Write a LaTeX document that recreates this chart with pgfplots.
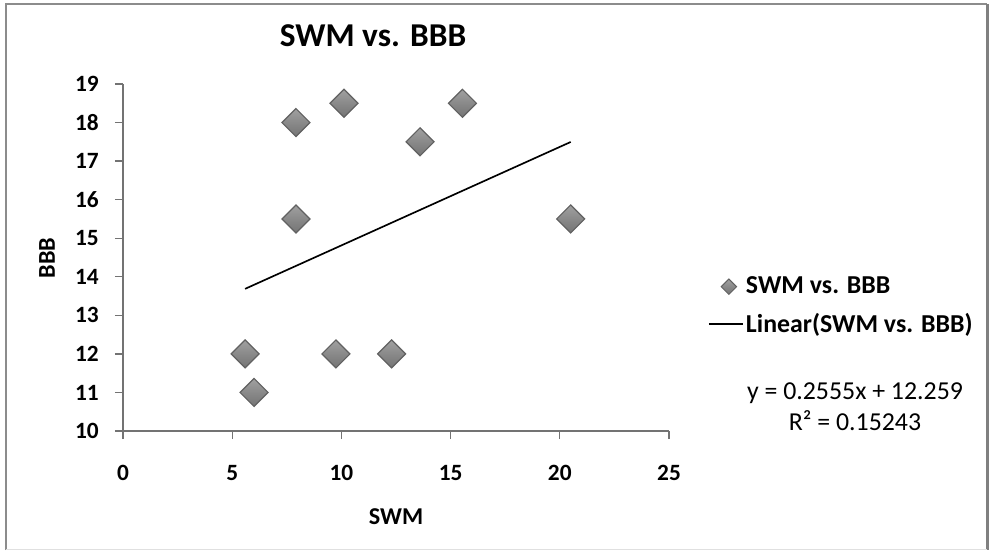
\documentclass[border=0pt]{standalone}
\usepackage{pgfplots}
\pgfplotsset{compat=1.18}
\usepackage{fontspec}
\setmainfont{Carlito}

% grey gradient used for the scatter markers
\pgfdeclareverticalshading{gdshade}{100bp}{%
  color(0bp)=(black!62); color(45bp)=(black!48); color(100bp)=(black!28)}
\pgfdeclareplotmark{gdiamond}{%
  \pgfpathmoveto{\pgfqpoint{0pt}{\pgfplotmarksize}}%
  \pgfpathlineto{\pgfqpoint{\pgfplotmarksize}{0pt}}%
  \pgfpathlineto{\pgfqpoint{0pt}{-\pgfplotmarksize}}%
  \pgfpathlineto{\pgfqpoint{-\pgfplotmarksize}{0pt}}%
  \pgfpathclose
  \pgfshadepath{gdshade}{0}%
  \pgfusepath{stroke}%
}

\begin{document}
\begin{tikzpicture}
\useasboundingbox (0pt,0pt) rectangle (595.2pt,330pt);
% chart frame
\draw[black!45, line width=1.2pt] (3.6pt,0pt) -- (3.6pt,327.6pt) -- (592.2pt,327.6pt);
\draw[black!50, line width=1.8pt] (592.2pt,327.6pt) -- (592.2pt,0pt);
\draw[black!12, line width=0.6pt] (3.6pt,0.6pt) -- (592.2pt,0.6pt);

\begin{axis}[
  at={(73.8pt,71.4pt)}, anchor=south west,
  scale only axis, width=327.6pt, height=208.2pt,
  xmin=0, xmax=25, ymin=10, ymax=19,
  xtick={0,5,10,15,20,25}, ytick={10,11,...,19},
  axis lines*=left,
  axis line style={black!55, line width=0.8pt},
  tick align=outside, major tick length=4.8pt,
  tick style={black!55, line width=0.8pt},
  /pgf/number format/assume math mode=true,
  ticklabel style={font=\fontsize{14}{16}\selectfont\bfseries, inner sep=0pt},
  yticklabel style={anchor=east, xshift=-9.6pt},
  xticklabel style={anchor=north, yshift=-15.6pt},
  title={SWM vs. BBB},
  title style={at={(axis description cs:0.458,1.1095)}, anchor=center,
    font=\fontsize{20}{22}\selectfont\bfseries},
  xlabel={SWM},
  xlabel style={at={(axis description cs:0.5,-0.2478)}, anchor=center,
    font=\fontsize{14.5}{16}\selectfont\bfseries},
  ylabel={BBB},
  ylabel style={at={(axis description cs:-0.1392,0.4986)}, anchor=center, rotate=0,
    font=\fontsize{14.5}{16}\selectfont\bfseries},
  legend style={draw=none, fill=none,
    at={(axis description cs:1.0714,0.452)}, anchor=north west,
    font=\fontsize{15.5}{17}\selectfont\bfseries,
    inner sep=0pt, row sep=7pt,
    nodes={inner sep=1.5pt, anchor=west}},
  legend cell align=left,
  clip=false,
]
% observations
\addplot[only marks, mark=gdiamond, mark size=8.4pt,
  mark options={draw=black!62, line width=0.7pt}, forget plot]
  coordinates {
  (5.59,12) (6.0,11) (7.92,15.5) (7.92,18) (10.12,18.5)
  (9.75,12) (12.3,12) (13.6,17.5) (15.54,18.5) (20.5,15.5)
  };
% least-squares trend: y = 0.2555x + 12.259
\addplot[black, line width=1pt, forget plot]
  coordinates {(5.59,13.687) (20.5,17.497)};

\addlegendimage{legend image code/.code={%
  \pgfplotsset{mark size=4.6pt}%
  \draw[draw=black!62, line width=0.6pt] plot[mark=gdiamond] coordinates {(12pt,0pt)};}}
\addlegendentry{SWM vs. BBB}
\addlegendimage{legend image code/.code={%
  \draw[black, line width=0.7pt] (0pt,0pt) -- (20.4pt,0pt);}}
\addlegendentry{Linear(SWM vs. BBB)}
\end{axis}

\node[align=center, font=\fontsize{15.5}{18.6}\selectfont, inner sep=0pt]
  at (513pt,85.8pt) {y = 0.2555x + 12.259\\R² = 0.15243};
\end{tikzpicture}
\end{document}
